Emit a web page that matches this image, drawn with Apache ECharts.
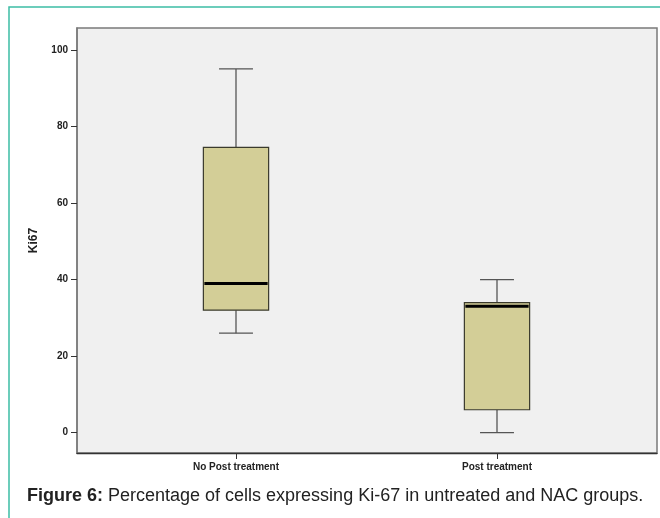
<!DOCTYPE html>
<html>
<head>
<meta charset="utf-8">
<script src="https://cdn.jsdelivr.net/npm/echarts@6/dist/echarts.min.js"></script>
<style>html,body{margin:0;padding:0;background:#fff;}#c{width:660px;height:518px;}</style>
</head>
<body>
<div id="c"></div>
<script>
// Data
const categories = ['No Post treatment', 'Post treatment'];
const whiskerLow = [26, 0];
const q1 = [32, 6];
const medians = [39, 33];
const q3 = [74.5, 34];
const whiskerHigh = [95, 40];
const yTicks = [0, 20, 40, 60, 80, 100];

const boxData = categories.map((c, i) => [i, whiskerLow[i], q1[i], medians[i], q3[i], whiskerHigh[i]]);

const Y_MIN = -5.3, Y_MAX = 105.7;

function renderItem(params, api) {
  const x = api.value(0);
  const band = api.size([1, 0])[0];
  const bw = band * 0.25;
  const cw = band * 0.13;
  const pLow = api.coord([x, api.value(1)]);
  const pQ1 = api.coord([x, api.value(2)]);
  const pMed = api.coord([x, api.value(3)]);
  const pQ3 = api.coord([x, api.value(4)]);
  const pHigh = api.coord([x, api.value(5)]);
  const cx = pLow[0];
  const wStyle = { stroke: '#555', lineWidth: 1.3 };
  return {
    type: 'group',
    children: [
      { type: 'line', shape: { x1: cx, y1: pHigh[1], x2: cx, y2: pQ3[1] }, style: wStyle },
      { type: 'line', shape: { x1: cx, y1: pQ1[1], x2: cx, y2: pLow[1] }, style: wStyle },
      { type: 'line', shape: { x1: cx - cw / 2, y1: pHigh[1], x2: cx + cw / 2, y2: pHigh[1] }, style: wStyle },
      { type: 'line', shape: { x1: cx - cw / 2, y1: pLow[1], x2: cx + cw / 2, y2: pLow[1] }, style: wStyle },
      { type: 'rect', shape: { x: cx - bw / 2, y: pQ3[1], width: bw, height: pQ1[1] - pQ3[1] },
        style: { fill: '#d3ce97', stroke: '#3a3a2c', lineWidth: 1.2 } },
      { type: 'line', shape: { x1: cx - bw / 2 + 1, y1: pMed[1], x2: cx + bw / 2 - 1, y2: pMed[1] },
        style: { stroke: '#000', lineWidth: 3 } }
    ]
  };
}

const chart = echarts.init(document.getElementById('c'), null, { renderer: 'canvas' });
chart.setOption({
  animation: false,
  backgroundColor: '#fff',
  title: {
    text: '{b|Figure 6:} Percentage of cells expressing Ki-67 in untreated and NAC groups.',
    left: 27, top: 487, padding: 0,
    textStyle: {
      fontFamily: 'Liberation Sans, Arial, sans-serif', fontSize: 18, fontWeight: 'normal', color: '#222',
      rich: { b: { fontFamily: 'Liberation Sans, Arial, sans-serif', fontSize: 18, fontWeight: 'bold', color: '#222' } }
    }
  },
  graphic: [{
    type: 'rect', silent: true, z: -1,
    shape: { x: 9, y: 7, width: 700, height: 600 },
    style: { fill: 'none', stroke: '#3dbda5', lineWidth: 1.5 }
  }],
  grid: [
    { left: 77, top: 28, width: 580, height: 425, show: true, backgroundColor: '#f0f0f0', borderColor: '#7a7a7a', borderWidth: 1.5 },
    { left: 105.5, top: 28, width: 522, height: 425 }
  ],
  xAxis: [
    { type: 'value', gridIndex: 0, min: 0, max: 1, axisLine: { show: true, onZero: false, lineStyle: { color: '#333', width: 1.3 } },
      axisTick: { show: false }, axisLabel: { show: false }, splitLine: { show: false } },
    { type: 'category', gridIndex: 1, data: categories, boundaryGap: true, position: 'bottom',
      axisLine: { show: false, onZero: false },
      axisTick: { show: true, alignWithLabel: true, length: 6, lineStyle: { color: '#333' } },
      axisLabel: { margin: 9, fontFamily: 'Liberation Sans, Arial, sans-serif', fontSize: 10, fontWeight: 'bold', color: '#222' } }
  ],
  yAxis: [
    { type: 'value', gridIndex: 0, min: Y_MIN, max: Y_MAX,
      name: 'Ki67', nameLocation: 'middle', nameGap: 37, nameRotate: 90,
      nameTextStyle: { fontFamily: 'Liberation Sans, Arial, sans-serif', fontSize: 12, fontWeight: 'bold', color: '#222' },
      axisLine: { show: true, onZero: false, lineStyle: { color: '#7a7a7a', width: 1.5 } },
      axisTick: { show: true, length: 6, customValues: yTicks, lineStyle: { color: '#333' } },
      axisLabel: { margin: 9, customValues: yTicks, fontFamily: 'Liberation Sans, Arial, sans-serif', fontSize: 10, fontWeight: 'bold', color: '#222' },
      splitLine: { show: false } },
    { type: 'value', gridIndex: 1, min: Y_MIN, max: Y_MAX, show: false, splitLine: { show: false } }
  ],
  series: [{
    type: 'custom', xAxisIndex: 1, yAxisIndex: 1,
    renderItem: renderItem,
    encode: { x: 0, y: [1, 2, 3, 4, 5] },
    data: boxData
  }]
});
</script>
</body>
</html>
